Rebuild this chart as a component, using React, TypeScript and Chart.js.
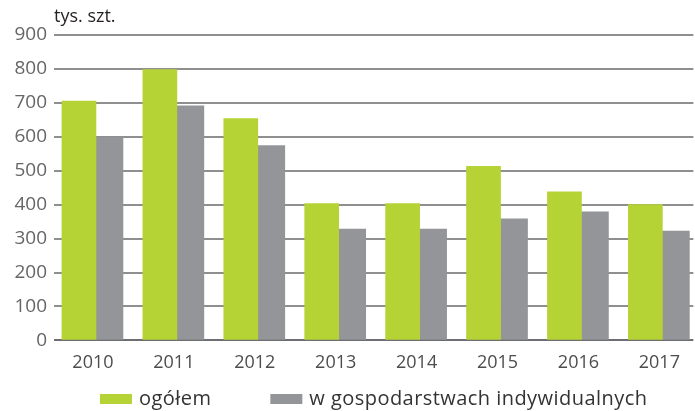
import { useEffect, useRef } from 'react';
import { Chart, registerables } from 'chart.js';

Chart.register(...registerables);

const years = ['2010', '2011', '2012', '2013', '2014', '2015', '2016', '2017'];
const ogolem = [705, 798, 654, 403, 403, 513, 438, 400];
const indywidualne = [598, 691, 574, 328, 328, 358, 379, 322];
const yTickValues = [0, 100, 200, 300, 400, 500, 600, 700, 800, 900];
const unitLabel = 'tys. szt.';
const seriesLabels = ['ogółem', 'w gospodarstwach indywidualnych'];
const seriesColors = ['#b5d334', '#939598'];

const FONT = '"Open Sans", "Noto Sans", sans-serif';

const unitPlugin = {
  id: 'unitLabel',
  afterDraw(chart: any) {
    const { ctx, chartArea } = chart;
    ctx.save();
    ctx.font = `18px ${FONT}`;
    ctx.fillStyle = '#231f20';
    ctx.textAlign = 'left';
    ctx.textBaseline = 'alphabetic';
    ctx.fillText(unitLabel, chartArea.left, 22);
    ctx.restore();
  },
};

const legendPlugin = {
  id: 'customLegend',
  afterDraw(chart: any) {
    const { ctx, chartArea } = chart;
    const boxW = 32;
    const boxH = 10;
    const textGap = 7;
    const itemGap = 59;
    const y = 399;
    ctx.save();
    ctx.font = `20px ${FONT}`;
    try {
      (ctx as any).letterSpacing = '0.45px';
    } catch (e) {
      /* ignore */
    }
    const items = chart.data.datasets.map((ds: any) => ({
      text: ds.label as string,
      color: ds.backgroundColor as string,
      w: ctx.measureText(ds.label).width,
    }));
    const total =
      items.reduce((s: number, it: any) => s + boxW + textGap + it.w, 0) +
      itemGap * (items.length - 1);
    let x = (chartArea.left + chartArea.right) / 2 - total / 2;
    ctx.textBaseline = 'middle';
    ctx.textAlign = 'left';
    items.forEach((it: any) => {
      ctx.fillStyle = it.color;
      ctx.fillRect(x, y - boxH / 2, boxW, boxH);
      x += boxW + textGap;
      ctx.fillStyle = '#333333';
      ctx.fillText(it.text, x, y);
      x += it.w + itemGap;
    });
    ctx.restore();
  },
};

export default function App() {
  const ref = useRef<HTMLCanvasElement>(null);

  useEffect(() => {
    document.body.style.margin = '0';
    const chart = new Chart(ref.current!, {
      type: 'bar',
      data: {
        datasets: [
          {
            label: seriesLabels[0],
            data: ogolem.map((v, i) => ({ x: i, y: v })),
            backgroundColor: seriesColors[0],
            barThickness: 34,
          },
          {
            label: seriesLabels[1],
            data: indywidualne.map((v, i) => ({ x: i, y: v })),
            backgroundColor: seriesColors[1],
            barThickness: 27,
          },
        ],
      } as any,
      options: {
        responsive: false,
        animation: false,
        layout: { padding: { left: 0, right: 1, top: 35, bottom: 25 } },
        scales: {
          x: {
            type: 'linear',
            offset: false,
            min: -0.5185,
            max: 7.383,
            grid: { display: false, drawTicks: false, offset: false },
            border: { display: false },
            afterBuildTicks: (scale: any) => {
              scale.ticks = years.map((_, i) => ({ value: i }));
            },
            ticks: {
              autoSkip: false,
              maxRotation: 0,
              padding: 12,
              labelOffset: -3,
              color: '#4d4d4d',
              font: { family: FONT, size: 18 },
              callback: (v: any) => years[v as number] ?? '',
            },
          },
          y: {
            min: 0,
            max: 900,
            afterFit: (scale: any) => {
              scale.width = 54;
            },
            afterBuildTicks: (scale: any) => {
              scale.ticks = yTickValues.map((v) => ({ value: v }));
            },
            border: { display: false },
            grid: {
              drawTicks: false,
              lineWidth: 2,
              color: (ctx: any) => (ctx.tick && ctx.tick.value === 0 ? '#6d6e71' : '#8f8f8f'),
            },
            ticks: {
              padding: 7,
              color: '#666666',
              font: { family: FONT, size: 19 },
            },
          },
        },
        plugins: {
          legend: { display: false },
          tooltip: { enabled: false },
        },
      } as any,
      plugins: [unitPlugin, legendPlugin],
    });
    return () => chart.destroy();
  }, []);

  return (
    <div style={{ position: 'fixed', left: 0, top: 0, width: 695, height: 411 }}>
      <canvas ref={ref} width={695} height={411} style={{ display: 'block' }} />
    </div>
  );
}
